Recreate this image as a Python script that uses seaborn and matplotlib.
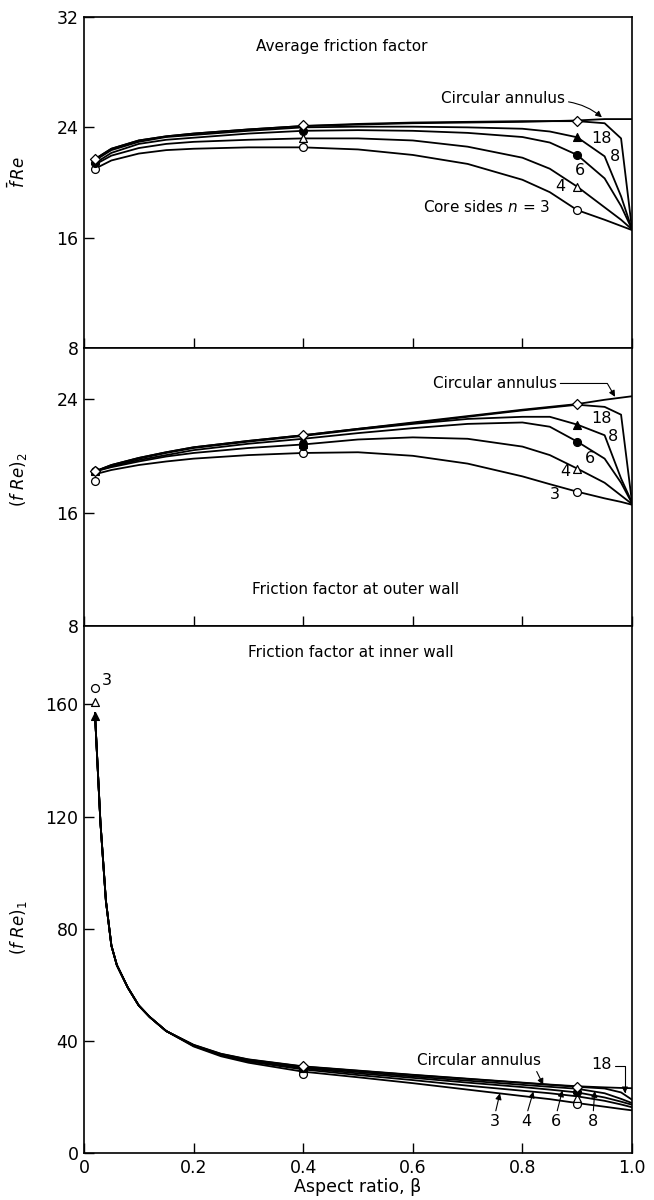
import numpy as np
import matplotlib
matplotlib.use('Agg')
import matplotlib.pyplot as plt
import seaborn as sns

# aspect ratio grid for the two upper panels
beta = [0.02, 0.05, 0.1, 0.15, 0.2, 0.3, 0.4, 0.5, 0.6, 0.7, 0.8, 0.85, 0.9, 0.95, 0.98, 1.0]

# average friction factor, fRe (bar)
avg_ann = [21.7, 22.45, 23.05, 23.35, 23.55, 23.85, 24.1, 24.25, 24.35, 24.4, 24.45, 24.45, 24.5, 24.6, 24.6, 24.6]
avg_n18 = [21.7, 22.45, 23.05, 23.35, 23.55, 23.85, 24.1, 24.2, 24.3, 24.35, 24.4, 24.45, 24.45, 24.3, 23.2, 16.6]
avg_n8 = [21.6, 22.35, 22.95, 23.3, 23.45, 23.75, 24.0, 24.05, 24.05, 24.0, 23.9, 23.7, 23.28, 21.9, 19.0, 16.6]
avg_n6 = [21.4, 22.15, 22.8, 23.1, 23.25, 23.55, 23.75, 23.8, 23.75, 23.6, 23.3, 22.9, 22.0, 20.3, 18.3, 16.6]
avg_n4 = [21.3, 21.95, 22.5, 22.8, 22.95, 23.1, 23.2, 23.2, 23.05, 22.6, 21.8, 21.0, 19.7, 18.2, 17.3, 16.6]
avg_n3 = [21.0, 21.6, 22.1, 22.35, 22.45, 22.55, 22.55, 22.4, 22.0, 21.35, 20.2, 19.3, 18.0, 17.3, 16.85, 16.55]

# friction factor at outer wall, (fRe)2
out_ann = [18.9, 19.35, 19.85, 20.25, 20.6, 21.05, 21.45, 21.9, 22.35, 22.8, 23.25, 23.45, 23.65, 23.95, 24.1, 24.2]
out_n18 = [18.9, 19.35, 19.85, 20.25, 20.6, 21.05, 21.45, 21.9, 22.3, 22.75, 23.2, 23.4, 23.6, 23.45, 22.9, 16.7]
out_n8 = [18.9, 19.3, 19.8, 20.2, 20.55, 21.0, 21.4, 21.85, 22.25, 22.6, 22.75, 22.75, 22.2, 21.45, 18.4, 16.7]
out_n6 = [18.9, 19.25, 19.7, 20.05, 20.4, 20.85, 21.2, 21.6, 21.95, 22.25, 22.35, 22.05, 21.0, 19.8, 18.1, 16.65]
out_n4 = [18.9, 19.2, 19.6, 19.95, 20.2, 20.55, 20.8, 21.15, 21.3, 21.2, 20.65, 20.05, 19.1, 18.1, 17.2, 16.6]
out_n3 = [18.7, 19.0, 19.35, 19.6, 19.8, 20.05, 20.2, 20.25, 20.0, 19.45, 18.55, 18.0, 17.47, 17.0, 16.75, 16.55]

# friction factor at inner wall, (fRe)1
beta_in = [0.02, 0.03, 0.04, 0.05, 0.06, 0.08, 0.1, 0.12, 0.15, 0.2, 0.25, 0.3,
           0.4, 0.5, 0.6, 0.7, 0.8, 0.85, 0.9, 0.95, 0.98, 1.0]
in_ann = [157, 118, 90, 74, 67, 59, 52.6, 48.5, 43.5, 38.6, 35.4, 33.4,
          30.9, 29.4, 27.9, 26.5, 25.1, 24.4, 23.8, 23.4, 23.2, 23.1]
in_n18 = [157, 118, 90, 74, 67, 59, 52.6, 48.5, 43.5, 38.5, 35.3, 33.3,
          30.8, 29.3, 27.8, 26.4, 25.0, 24.3, 23.6, 23.0, 21.6, 19.0]
in_n8 = [157, 118, 90, 74, 67, 59, 52.6, 48.5, 43.5, 38.4, 35.1, 33.0,
         30.5, 28.9, 27.3, 25.8, 24.3, 23.6, 22.9, 21.3, 19.3, 17.8]
in_n6 = [157, 118, 90, 74, 67, 59, 52.6, 48.5, 43.5, 38.3, 35.0, 32.8,
         30.2, 28.4, 26.8, 25.1, 23.5, 22.6, 21.6, 19.8, 18.3, 17.2]
in_n4 = [157, 118, 90, 74, 67, 59, 52.6, 48.5, 43.5, 38.2, 34.8, 32.6,
         29.8, 27.8, 26.0, 24.0, 22.2, 21.3, 20.2, 18.6, 17.3, 16.3]
in_n3 = [157, 118, 90, 74, 67, 59, 52.6, 48.5, 43.5, 38.0, 34.5, 32.2,
         29.0, 27.0, 24.9, 22.6, 20.3, 19.2, 17.8, 16.5, 15.7, 15.2]

# plotted symbols
mk_beta = [0.02, 0.4, 0.9]
avg_mk_3 = [21.0, 22.55, 18.0]
avg_mk_4 = [21.7, 23.2, 19.7]
avg_mk_6 = [21.4, 23.75, 22.0]
avg_mk_8 = [21.6, 24.0, 23.28]
avg_mk_18 = [21.7, 24.15, 24.48]
out_mk_3 = [18.2, 20.17, 17.47]
out_mk_4 = [19.0, 20.8, 19.1]
out_mk_6 = [18.9, 20.7, 21.0]
out_mk_8 = [18.9, 21.2, 22.2]
out_mk_18 = [18.9, 21.46, 23.65]
in_mk_3 = [166, 28.2, 17.3]
in_mk_4 = [161, 30.2, 19.6]
in_mk_6 = [np.nan, 30.2, 21.6]
in_mk_8 = [156, 30.5, 22.9]
in_mk_18 = [np.nan, 30.9, 23.7]

xtick_vals = [0, 0.2, 0.4, 0.6, 0.8, 1.0]
xtick_labels = ['0', '0.2', '0.4', '0.6', '0.8', '1.0']

sns.set_style('ticks')
plt.rcParams['font.family'] = ['DejaVu Sans']
plt.rcParams['mathtext.fontset'] = 'dejavusans'
for key in ['text.color', 'axes.labelcolor', 'xtick.color', 'ytick.color',
            'axes.edgecolor']:
    plt.rcParams[key] = 'black'

fig = plt.figure(figsize=(6.54, 12), dpi=100)
gs = fig.add_gridspec(3, 1, height_ratios=[331, 278, 527], hspace=0,
                      left=0.1284, right=0.9664, top=0.9858, bottom=0.0392)
axes = [fig.add_subplot(gs[i]) for i in range(3)]

sym = [('3', 'o', 'white'), ('4', '^', 'white'), ('6', 'o', 'black'),
       ('8', '^', 'black'), ('18', 'D', 'white')]

panels = [
    (beta, [avg_ann, avg_n18, avg_n8, avg_n6, avg_n4, avg_n3],
     [avg_mk_3, avg_mk_4, avg_mk_6, avg_mk_8, avg_mk_18]),
    (beta, [out_ann, out_n18, out_n8, out_n6, out_n4, out_n3],
     [out_mk_3, out_mk_4, out_mk_6, out_mk_8, out_mk_18]),
    (beta_in, [in_ann, in_n18, in_n8, in_n6, in_n4, in_n3],
     [in_mk_3, in_mk_4, in_mk_6, in_mk_8, in_mk_18]),
]

for ax, (bx, lines, marks) in zip(axes, panels):
    for vals in lines:
        sns.lineplot(x=bx, y=vals, color='black', lw=1.3, ax=ax, legend=False)
    for (name, m, fc), vals in zip(sym, marks):
        sns.scatterplot(x=mk_beta, y=vals, marker=m, s=32 if m != 'D' else 26,
                        color=fc, edgecolor='black', linewidth=0.9,
                        ax=ax, zorder=4, legend=False)
    ax.set_xlim(0, 1)
    ax.set_xticks(xtick_vals)
    ax.tick_params(direction='in', length=7, width=1, labelsize=12.5,
                   top=False, right=False, pad=4)
    for sp in ax.spines.values():
        sp.set_linewidth(1.2)
    ax.set_xlabel('')

axes[0].set_xticklabels([])
axes[1].set_xticklabels([])
axes[2].set_xticklabels(xtick_labels)

axes[0].set_ylim(8, 32)
axes[0].set_yticks([8, 16, 24, 32])
axes[1].set_ylim(8, 27.6)
axes[1].set_yticks([8, 16, 24])
axes[2].set_ylim(0, 188)
axes[2].set_yticks([0, 40, 80, 120, 160])

axes[0].set_ylabel(r'$\bar{f}\,Re$', fontsize=12)
axes[1].set_ylabel(r'$(f\ Re)_2$', fontsize=12)
axes[2].set_ylabel(r'$(f\ Re)_1$', fontsize=12)
axes[0].yaxis.set_label_coords(-0.1, 0.53)
axes[1].yaxis.set_label_coords(-0.1, 0.525)
axes[2].yaxis.set_label_coords(-0.1, 0.427)
axes[2].set_xlabel('Aspect ratio, \u03b2', fontsize=12.5, labelpad=1)

arrow = dict(arrowstyle='-|>', color='black', lw=0.8, mutation_scale=9,
             shrinkA=0, shrinkB=0)
fs = 11.5

# top panel text
ax = axes[0]
ax.text(0.47, 29.85, 'Average friction factor', ha='center', va='center', fontsize=11)
ax.annotate('Circular annulus', xy=(0.945, 24.73), xytext=(0.765, 26.1),
            ha='center', va='center', fontsize=11,
            arrowprops=dict(arrow, relpos=(1, 0.3), connectionstyle='arc3,rad=-0.15'))
ax.text(0.945, 23.2, '18', ha='center', va='center', fontsize=fs)
ax.text(0.969, 21.87, '8', ha='center', va='center', fontsize=fs)
ax.text(0.905, 20.9, '6', ha='center', va='center', fontsize=fs)
ax.text(0.869, 19.74, '4', ha='center', va='center', fontsize=fs)
ax.text(0.85, 18.25, 'Core sides $n$ = 3', ha='right', va='center', fontsize=11)

# middle panel text
ax = axes[1]
ax.text(0.495, 10.55, 'Friction factor at outer wall', ha='center', va='center', fontsize=11)
ax.annotate('Circular annulus', xy=(0.969, 24.16), xytext=(0.75, 25.1),
            ha='center', va='center', fontsize=11,
            arrowprops=dict(arrow, relpos=(1, 0.5),
                            connectionstyle='angle,angleA=0,angleB=-60,rad=0'))
ax.text(0.945, 22.66, '18', ha='center', va='center', fontsize=fs)
ax.text(0.966, 21.37, '8', ha='center', va='center', fontsize=fs)
ax.text(0.923, 19.82, '6', ha='center', va='center', fontsize=fs)
ax.text(0.878, 18.88, '4', ha='center', va='center', fontsize=fs)
ax.text(0.86, 17.24, '3', ha='center', va='center', fontsize=fs)

# bottom panel text
ax = axes[2]
ax.text(0.487, 178.5, 'Friction factor at inner wall', ha='center', va='center', fontsize=11)
ax.text(0.042, 168.5, '3', ha='center', va='center', fontsize=fs)
ax.annotate('Circular annulus', xy=(0.838, 24.3), xytext=(0.72, 32.9),
            ha='center', va='center', fontsize=11,
            arrowprops=dict(arrow, relpos=(0.95, 0.1)))
ax.annotate('18', xy=(0.987, 21.3), xytext=(0.945, 31.4),
            ha='center', va='center', fontsize=fs,
            arrowprops=dict(arrow, relpos=(1, 0.4),
                            connectionstyle='angle,angleA=0,angleB=90,rad=0'))
for lab, bx_lab, tip in [('3', 0.75, (0.759, 21.3)), ('4', 0.808, (0.82, 21.9)),
                         ('6', 0.862, (0.873, 22.3)), ('8', 0.929, (0.932, 22.1))]:
    ax.annotate(lab, xy=tip, xytext=(bx_lab, 11.2), ha='center', va='center',
                fontsize=fs, arrowprops=dict(arrow, relpos=(0.5, 1)))

fig.savefig('out.png', dpi=100)
